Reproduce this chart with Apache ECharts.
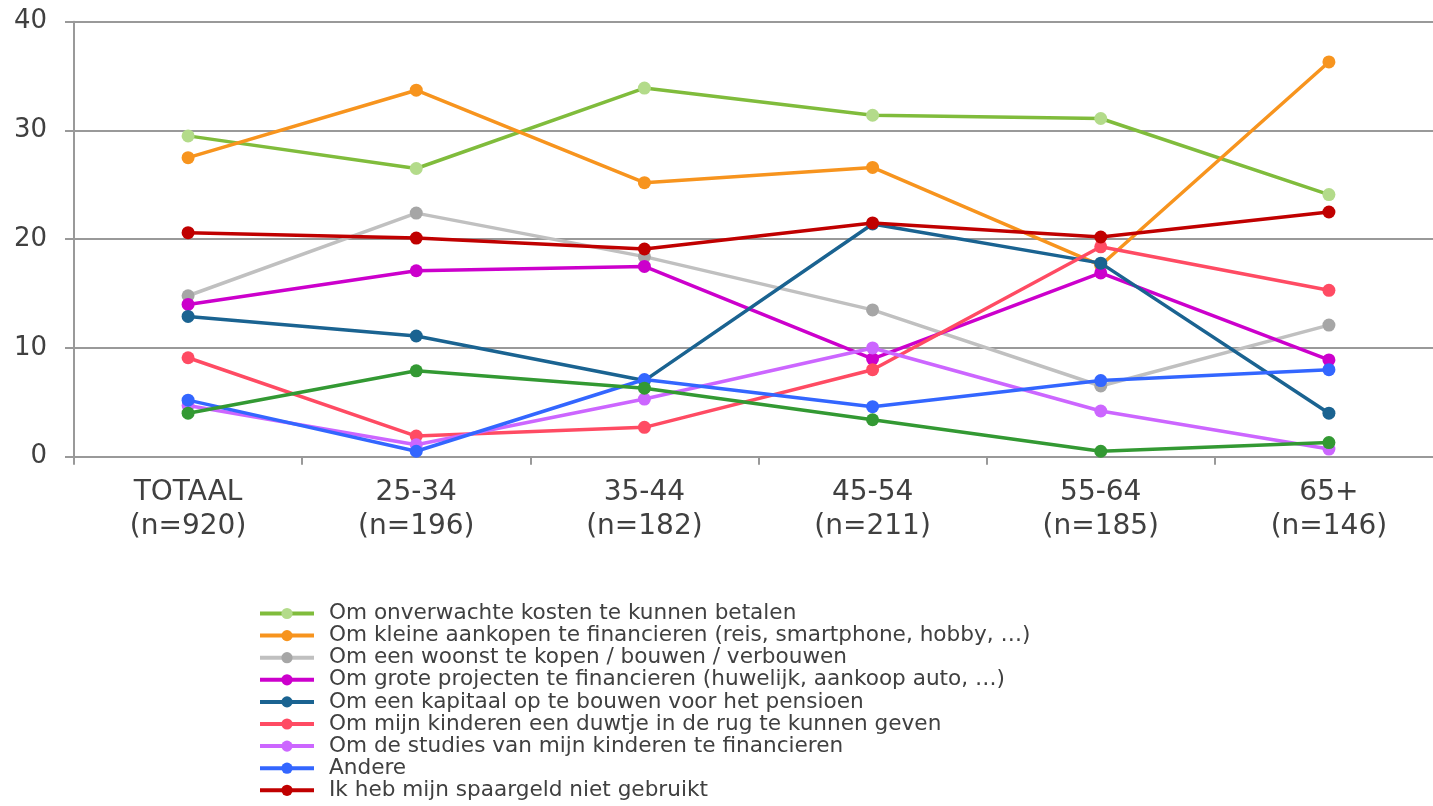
<!DOCTYPE html>
<html>
<head>
<meta charset="utf-8">
<script src="https://cdn.jsdelivr.net/npm/echarts@6/dist/echarts.min.js"></script>
<style>
html,body{margin:0;padding:0;background:#fff;overflow:hidden;width:1433px;height:806px;}
#chart{width:1443px;height:850px;}
</style>
</head>
<body>
<div id="chart"></div>
<script>
const categories = ['TOTAAL\n(n=920)', '25-34\n(n=196)', '35-44\n(n=182)', '45-54\n(n=211)', '55-64\n(n=185)', '65+\n(n=146)'];
const yTicks = [0, 10, 20, 30, 40];

const names = [
  'Om onverwachte kosten te kunnen betalen',
  'Om kleine aankopen te financieren (reis, smartphone, hobby, …)',
  'Om een woonst te kopen / bouwen / verbouwen',
  'Om grote projecten te financieren (huwelijk, aankoop auto, …)',
  'Om een kapitaal op te bouwen voor het pensioen',
  'Om mijn kinderen een duwtje in de rug te kunnen geven',
  'Om de studies van mijn kinderen te financieren',
  'Andere',
  'Ik heb mijn spaargeld niet gebruikt',
  'Overige'
];

const onverwachte = [29.5, 26.5, 33.9, 31.4, 31.1, 24.1];
const kleineAankopen = [27.5, 33.7, 25.2, 26.6, 17.6, 36.3];
const woonst = [14.8, 22.4, 18.4, 13.5, 6.5, 12.1];
const groteProjecten = [14.0, 17.1, 17.5, 9.0, 16.9, 8.9];
const pensioen = [12.9, 11.1, 7.0, 21.4, 17.8, 4.0];
const duwtje = [9.1, 1.9, 2.7, 8.0, 19.3, 15.3];
const studies = [4.7, 1.1, 5.3, 10.0, 4.2, 0.7];
const andere = [5.2, 0.5, 7.1, 4.6, 7.0, 8.0];
const nietGebruikt = [20.6, 20.1, 19.1, 21.5, 20.2, 22.5];
const overige = [4.0, 7.9, 6.3, 3.4, 0.5, 1.3];

const seriesData = [onverwachte, kleineAankopen, woonst, groteProjecten, pensioen, duwtje, studies, andere, nietGebruikt, overige];
const lineColors = ['#80bc3c', '#f7941e', '#c0c0c0', '#cc00cc', '#1a6391', '#ff4b63', '#cc66ff', '#3366ff', '#c00000', '#339933'];
const markColors = ['#b3db8a', '#f7941e', '#a6a6a6', '#cc00cc', '#1a6391', '#ff4b63', '#cc66ff', '#3366ff', '#c00000', '#339933'];

const font = '"DejaVu Sans", Verdana, sans-serif';
const chart = echarts.init(document.getElementById('chart'));
chart.setOption({
  animation: false,
  backgroundColor: '#ffffff',
  textStyle: { fontFamily: font, color: '#404040' },
  grid: { left: 74, top: 21.7, right: 0, height: 435 },
  legend: {
    data: names.slice(0, 9),
    orient: 'vertical',
    left: 258,
    top: 602.5,
    itemWidth: 54,
    itemHeight: 14,
    itemGap: 0.1,
    lineStyle: { width: 4 },
    textStyle: { fontFamily: font, fontSize: 21.6, lineHeight: 21.5, color: '#404040', padding: [0, 0, 0, 10] },
    padding: 0
  },
  xAxis: {
    type: 'category',
    data: categories,
    boundaryGap: true,
    axisLine: { lineStyle: { color: '#999999', width: 2 } },
    axisTick: { show: true, length: 8, lineStyle: { color: '#999999', width: 2 } },
    axisLabel: { fontFamily: font, fontSize: 28, lineHeight: 34, color: '#404040', margin: 19 },
    splitLine: { show: false }
  },
  yAxis: {
    type: 'value',
    min: yTicks[0],
    max: yTicks[yTicks.length - 1],
    interval: 10,
    axisLine: { show: true, lineStyle: { color: '#999999', width: 2 } },
    axisTick: { show: true, length: 9, lineStyle: { color: '#999999', width: 2 } },
    axisLabel: { fontFamily: font, fontSize: 26, color: '#404040', margin: 27 },
    splitLine: { lineStyle: { color: '#999999', width: 2 } }
  },
  series: seriesData.map((d, i) => ({
    name: names[i],
    type: 'line',
    data: d,
    symbol: 'circle',
    symbolSize: 13,
    showSymbol: true,
    lineStyle: { color: lineColors[i], width: 3.5 },
    itemStyle: { color: markColors[i] },
    z: 2 + i
  }))
});
</script>
</body>
</html>
